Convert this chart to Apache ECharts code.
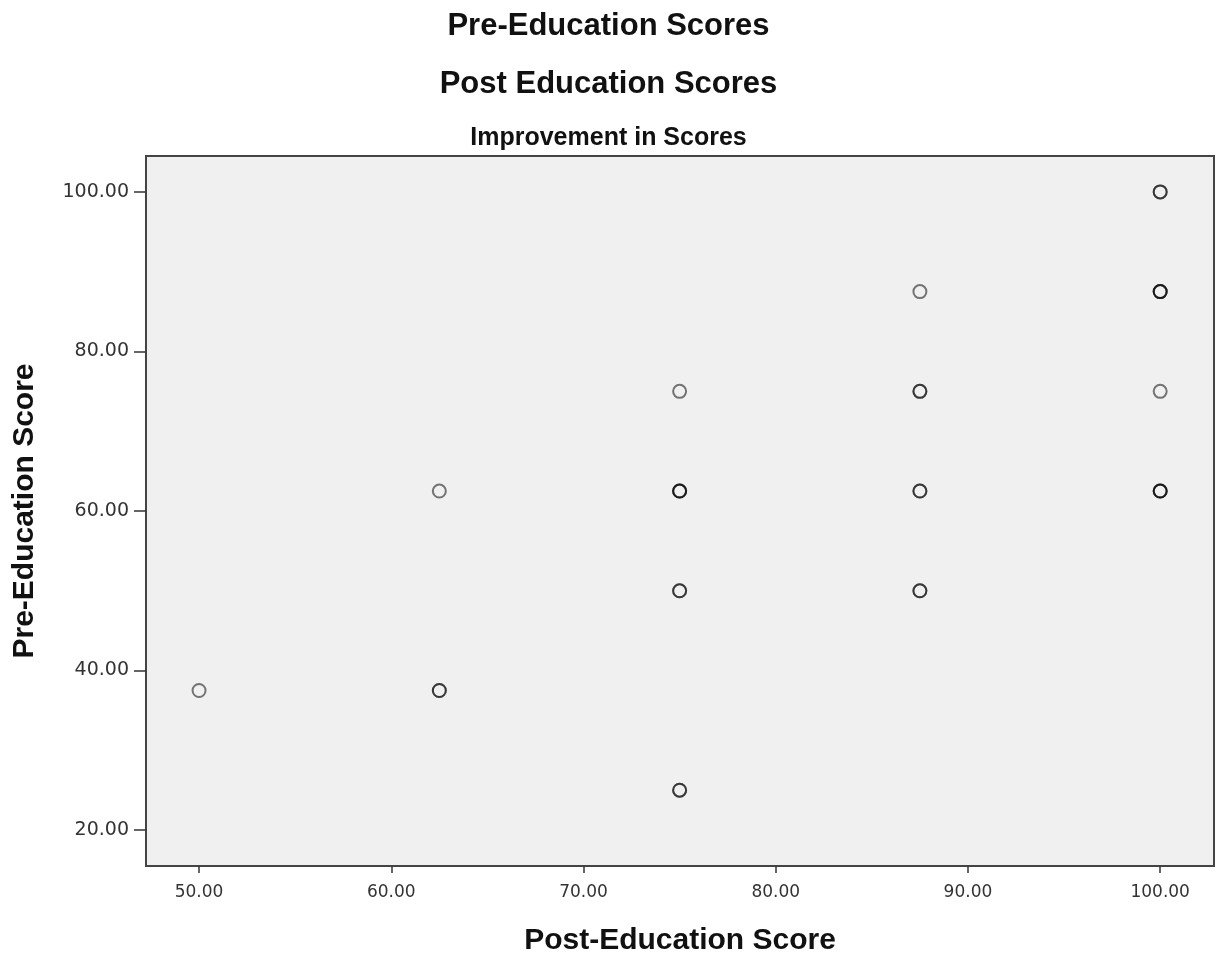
<!DOCTYPE html>
<html>
<head>
<meta charset="utf-8">
<script src="https://cdn.jsdelivr.net/npm/echarts@6/dist/echarts.min.js"></script>
<style>html,body{margin:0;padding:0;background:#fff}#c{width:1217px;height:953px}</style>
</head>
<body>
<div id="c"></div>
<script>
// Data (repeated pairs represent overlapping cases, drawn darker)
const postScores = [50, 62.5, 62.5, 62.5, 75, 75, 75, 75, 75, 75, 75, 75, 87.5, 87.5, 87.5, 87.5, 87.5, 87.5, 87.5, 100, 100, 100, 100, 100, 100, 100, 100, 100];
const preScores  = [37.5, 62.5, 37.5, 37.5, 75, 62.5, 62.5, 62.5, 50, 50, 25, 25, 87.5, 75, 75, 62.5, 62.5, 50, 50, 100, 100, 87.5, 87.5, 87.5, 75, 62.5, 62.5, 62.5];
const xTicks = [50, 60, 70, 80, 90, 100];
const yTicks = [20, 40, 60, 80, 100];
const titles = ["Pre-Education Scores", "Post Education Scores", "Improvement in Scores"];

const points = postScores.map((x, i) => [x, preScores[i]]);
const chart = echarts.init(document.getElementById('c'), null, {renderer: 'canvas'});
const boldFont = "'Liberation Sans', Arial, sans-serif";
chart.setOption({
  animation: false,
  backgroundColor: '#ffffff',
  title: [
    {text: titles[0], left: 'center', top: 6, textStyle: {fontFamily: boldFont, fontWeight: 'bold', fontSize: 31, color: '#111'}},
    {text: titles[1], left: 'center', top: 64, textStyle: {fontFamily: boldFont, fontWeight: 'bold', fontSize: 31, color: '#111'}},
    {text: titles[2], left: 'center', top: 121, textStyle: {fontFamily: boldFont, fontWeight: 'bold', fontSize: 25, color: '#111'}}
  ],
  grid: {left: 146, right: 3, top: 156, bottom: 87, outerBoundsMode: 'none', containLabel: false,
         show: true, backgroundColor: '#f0f0f0', borderColor: '#444', borderWidth: 2},
  xAxis: {
    type: 'value', min: 47.24, max: 102.8,
    name: 'Post-Education Score', nameLocation: 'middle', nameGap: 60,
    nameTextStyle: {fontFamily: boldFont, fontWeight: 'bold', fontSize: 30, color: '#111'},
    axisLine: {show: false},
    splitLine: {show: false},
    axisTick: {show: true, length: 7, customValues: xTicks, lineStyle: {color: '#333', width: 1.5}},
    axisLabel: {customValues: xTicks, formatter: v => v.toFixed(2), margin: 18, fontFamily: 'DejaVu Sans', fontSize: 17, color: '#333'}
  },
  yAxis: {
    type: 'value', min: 15.5, max: 104.5,
    name: 'Pre-Education Score', nameLocation: 'middle', nameGap: 106, nameRotate: 90,
    nameTextStyle: {fontFamily: boldFont, fontWeight: 'bold', fontSize: 30, color: '#111'},
    axisLine: {show: false},
    splitLine: {show: false},
    axisTick: {show: true, length: 12, customValues: yTicks, lineStyle: {color: '#333', width: 1.5}},
    axisLabel: {customValues: yTicks, formatter: v => v.toFixed(2), margin: 17, fontFamily: 'DejaVu Sans', fontSize: 19, color: '#333'}
  },
  series: [{
    type: 'scatter',
    data: points,
    symbol: 'circle',
    symbolSize: 13,
    itemStyle: {color: 'rgba(0,0,0,0)', borderColor: 'rgba(0,0,0,0.65)', borderWidth: 2}
  }]
});
</script>
</body>
</html>
